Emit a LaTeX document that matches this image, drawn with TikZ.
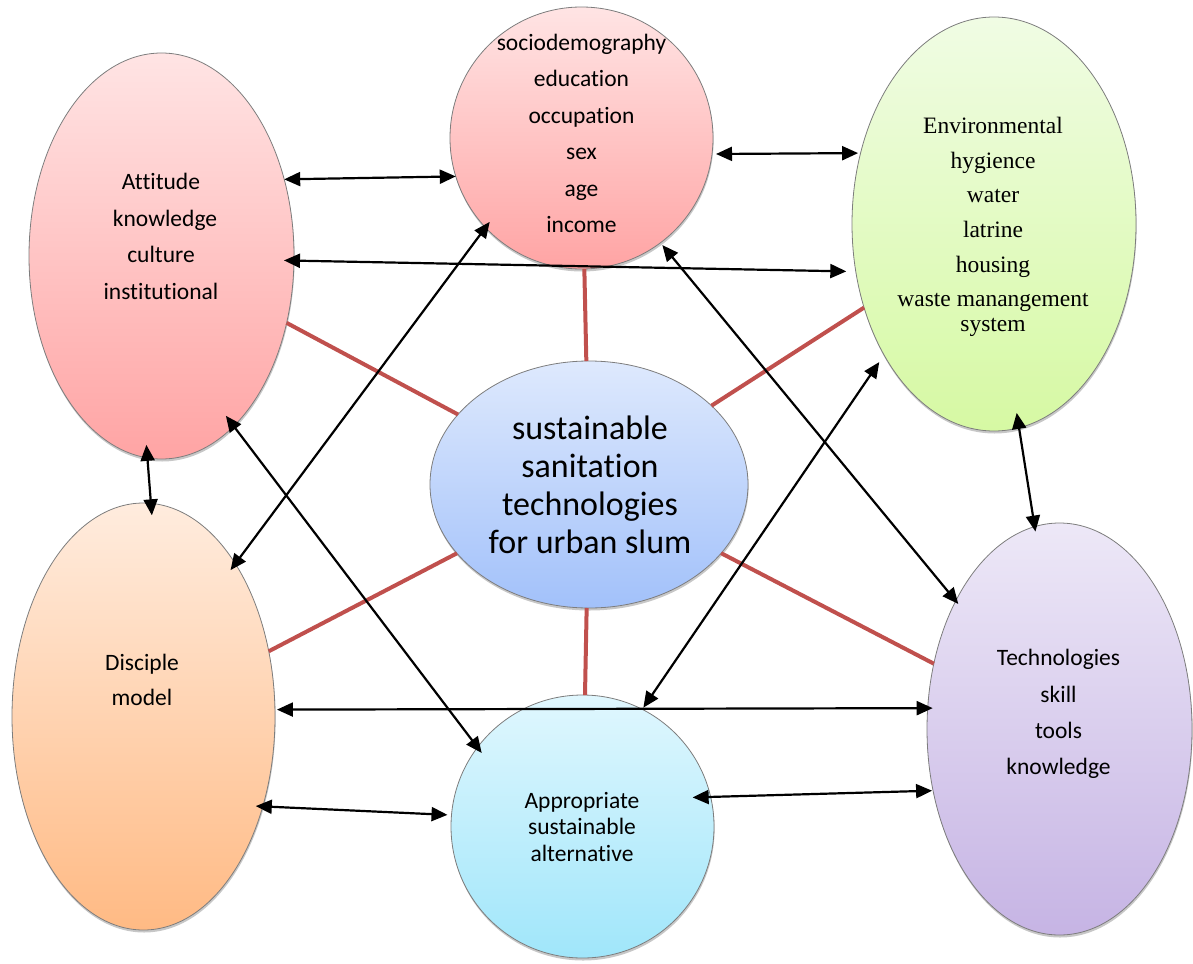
\documentclass[tikz,border=0pt]{standalone}
\usepackage{fontspec}
\setmainfont{Carlito}[Ligatures=NoCommon]
\newfontfamily\tnr{Liberation Serif}
\usetikzlibrary{arrows.meta,shapes.geometric,shadows}
\definecolor{pinkT}{RGB}{255,228,228}
\definecolor{pinkB}{RGB}{255,164,164}
\definecolor{envT}{RGB}{240,252,228}
\definecolor{envB}{RGB}{214,249,163}
\definecolor{ctrT}{RGB}{222,233,253}
\definecolor{ctrB}{RGB}{162,193,250}
\definecolor{disT}{RGB}{255,236,222}
\definecolor{disB}{RGB}{255,186,132}
\definecolor{appT}{RGB}{224,247,254}
\definecolor{appB}{RGB}{160,230,250}
\definecolor{tecT}{RGB}{237,232,247}
\definecolor{tecB}{RGB}{198,180,228}
\definecolor{bord}{RGB}{125,125,125}
\definecolor{linkred}{RGB}{192,80,77}
\newcommand\sr{\rule[-0.3em]{0pt}{1em}}
\begin{document}
\begin{tikzpicture}[x=1pt,y=-1pt,
  bub/.style={ellipse, draw=bord, line width=0.8pt, inner sep=0pt, outer sep=0pt,
    drop shadow={shadow xshift=0.6pt, shadow yshift=-2.5pt, opacity=0.22, fill=black}},
  redline/.style={draw=linkred, line width=4pt},
  arr/.style={arrows={Triangle[length=16pt,width=14pt]-Triangle[length=16pt,width=14pt]}, line width=2.2pt},
  lbl/.style={align=center, inner sep=0pt, font=\fontsize{23.5}{36.5}\selectfont}]

\useasboundingbox (0,0) rectangle (1193,963);

% bubbles
\node[bub, minimum width=265pt, minimum height=406pt, top color=pinkT, bottom color=pinkB] (att) at (161.5,256) {};
\node[bub, minimum width=263pt, minimum height=262pt, top color=pinkT, bottom color=pinkB] (soc) at (581.5,138) {};
\node[bub, minimum width=284pt, minimum height=414pt, top color=envT, bottom color=envB] (env) at (994,224) {};
\node[bub, minimum width=318pt, minimum height=247pt, top color=ctrT, bottom color=ctrB] (ctr) at (589,484.5) {};
\node[bub, minimum width=263pt, minimum height=427pt, top color=disT, bottom color=disB] (dis) at (143.5,716.5) {};
\node[bub, minimum width=263pt, minimum height=263pt, top color=appT, bottom color=appB] (app) at (582.5,826.5) {};
\node[bub, minimum width=265pt, minimum height=412pt, top color=tecT, bottom color=tecB] (tec) at (1059.5,729) {};

% red spokes
\draw[redline] (ctr) -- (att);
\draw[redline] (ctr) -- (soc);
\draw[redline] (ctr) -- (env);
\draw[redline] (ctr) -- (dis);
\draw[redline] (ctr) -- (app);
\draw[redline] (ctr) -- (tec);

% black double arrows
\draw[arr] (att.32.8) -- (soc.197.4);
\draw[arr, shorten <=4pt, shorten >=2.5pt] (soc.353.2) -- (env.152.4);
\draw[arr, shorten <=-10pt, shorten >=9.5pt] (att.358.6) -- (env.199.5);
\draw[arr, shorten <=-7pt, shorten >=-8pt] (soc.223.9) -- (dis.59.8);
\draw[arr, shorten <=3pt, shorten >=-4pt] (soc.307.3) -- (tec.129.3);
\draw[arr, shorten <=-13pt, shorten >=-12pt] (att.266.5) -- (dis.88.2);
\draw[arr, shorten <=-13pt, shorten >=-7pt] (att.293.6) -- (app.143.8);
\draw[arr, shorten <=8.5pt, shorten >=2pt] (env.230.8) -- (app.63.5);
\draw[arr, shorten <=-15pt, shorten >=-5pt] (env.277.2) -- (tec.97.7);
\draw[arr, shorten <=2pt, shorten >=-5pt] (dis.3.6) -- (tec.171.1);
\draw[arr, shorten <=-7pt, shorten >=4pt] (dis.323) -- (app.175.6);
\draw[arr, shorten <=-18pt, shorten >=1pt] (app.13) -- (tec.206.3);

% texts
\node[lbl] (attT) at (161,240) {\sr Attitude\\\hspace*{8pt}knowledge\\culture\\institutional\sr};
\node[lbl] (socT) at (581.5,137) {\sr sociodemography\\education\\occupation\\sex\\age\\income\sr};
\node[lbl, font=\tnr\fontsize{23.5}{34.6}\selectfont] (envT) at (993,228)
  {\sr Environmental\\hygience\\water\\latrine\\housing\\waste manangement\\[-9.6pt]system\sr};
\node[lbl, font=\fontsize{34}{38}\selectfont] (ctrT) at (590,489.5)
  {\sr sustainable\\sanitation\\technologies\\for urban slum\sr};
\node[lbl, font=\fontsize{23.5}{35}\selectfont] (disT) at (142,683) {\sr Disciple\\model\sr};
\node[lbl, font=\fontsize{23.5}{26.5}\selectfont] (appT) at (582,830) {\sr Appropriate\\sustainable\\alternative\sr};
\node[lbl, font=\fontsize{23.5}{36.3}\selectfont] (tecT) at (1058.5,715.5) {\sr Technologies\\skill\\tools\\knowledge\sr};
\end{tikzpicture}
\end{document}
